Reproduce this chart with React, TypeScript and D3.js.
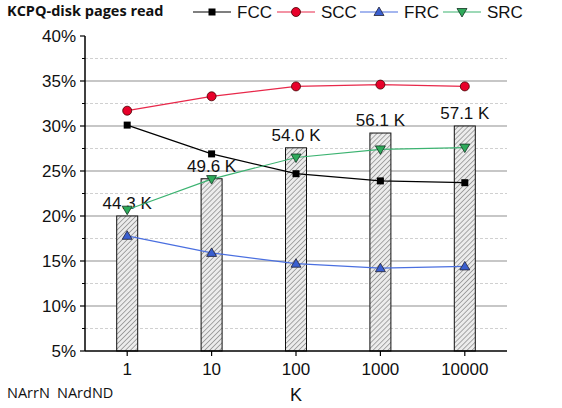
import * as d3 from "d3";
import React from "react";

// categories (K values)
const kValues = ["1", "10", "100", "1000", "10000"];

// line series, percent of disk pages read
const fcc = [30.1, 26.9, 24.7, 23.9, 23.7];
const scc = [31.7, 33.3, 34.4, 34.6, 34.4];
const frc = [17.8, 15.9, 14.7, 14.2, 14.4];
const src = [20.7, 24.1, 26.5, 27.4, 27.6];

// bar series, thousands of pages
const pages = [44.3, 49.6, 54.0, 56.1, 57.1];

const yTicks = [5, 10, 15, 20, 25, 30, 35, 40];
const yMinor = [7.5, 12.5, 17.5, 22.5, 27.5, 32.5, 37.5];

const W = 562,
  H = 408;
const margin = { top: 36, right: 55, bottom: 57, left: 85 };

const font = "'Liberation Sans', Arial, sans-serif";
const fontTitle = "'Open Sans', 'Noto Sans', sans-serif";

const series = [
  { name: "FCC", values: fcc, color: "#000000", marker: "square", fill: "#000000" },
  { name: "SCC", values: scc, color: "#e8284a", marker: "circle", fill: "#e8002a" },
  { name: "FRC", values: frc, color: "#4a6fe0", marker: "up", fill: "#3a5fd0" },
  { name: "SRC", values: src, color: "#3cb371", marker: "down", fill: "#2eaa5a" },
];

const Marker: React.FC<{ type: string; x: number; y: number; fill: string }> = ({ type, x, y, fill }) => {
  if (type === "square")
    return <rect x={x - 3.5} y={y - 3.5} width={7} height={7} fill={fill} />;
  if (type === "circle")
    return <circle cx={x} cy={y} r={4.5} fill={fill} stroke="#400" strokeWidth={0.8} />;
  if (type === "up")
    return (
      <path
        d={`M${x},${y - 5} L${x + 5},${y + 3.5} L${x - 5},${y + 3.5} Z`}
        fill={fill}
        stroke="#223"
        strokeWidth={0.8}
      />
    );
  return (
    <path
      d={`M${x},${y + 5} L${x + 5},${y - 3.5} L${x - 5},${y - 3.5} Z`}
      fill={fill}
      stroke="#132"
      strokeWidth={0.8}
    />
  );
};

const App: React.FC = () => {
  const x = d3
    .scaleBand()
    .domain(kValues)
    .range([margin.left, W - margin.right]);

  const y = d3
    .scaleLinear()
    .domain([5, 40])
    .range([H - margin.bottom, margin.top]);

  // hidden secondary axis for the page counts
  const y2 = d3
    .scaleLinear()
    .domain([25.1, 69.9])
    .range([H - margin.bottom, margin.top]);

  const cx = (k: string) => (x(k) ?? 0) + x.bandwidth() / 2;
  const barW = 21;

  const line = d3
    .line<number>()
    .x((_, i) => cx(kValues[i]))
    .y((d) => y(d));

  const x0 = margin.left,
    x1 = W - margin.right,
    yb = H - margin.bottom;

  const legendX = [193, 277, 360, 443];

  return (
    <svg width={W} height={H} style={{ position: "absolute", left: 0, top: 0 }}>
      <defs>
        <pattern id="hatch" patternUnits="userSpaceOnUse" width={3.5} height={3.5} patternTransform="rotate(45)">
          <rect width={3.5} height={3.5} fill="#ececec" />
          <line x1={0} y1={0} x2={0} y2={3.5} stroke="#6a6a6a" strokeWidth={1.1} />
        </pattern>
      </defs>
      <rect width={W} height={H} fill="#fff" />

      {/* grid */}
      {yMinor.map((t) => (
        <line key={"m" + t} x1={x0} x2={x1} y1={y(t)} y2={y(t)} stroke="#c4c4c4" strokeDasharray="3,2" strokeWidth={0.8} />
      ))}
      {yTicks.slice(1, -1).map((t) => (
        <line key={"g" + t} x1={x0} x2={x1} y1={y(t)} y2={y(t)} stroke="#b4b4b4" strokeWidth={1.5} />
      ))}

      {/* bars */}
      {pages.map((p, i) => (
        <g key={"b" + i}>
          <rect
            x={cx(kValues[i]) - barW / 2}
            y={y2(p)}
            width={barW}
            height={yb - y2(p)}
            fill="url(#hatch)"
            stroke="#111"
            strokeWidth={1}
          />
          <text
            x={cx(kValues[i])}
            y={y2(p) - 7}
            textAnchor="middle"
            fontFamily={font}
            fontSize={17}
            fill="#111"
          >
            {p.toFixed(1)} K
          </text>
        </g>
      ))}

      {/* lines */}
      {series.map((s) => (
        <g key={s.name}>
          <path d={line(s.values) ?? ""} fill="none" stroke={s.color} strokeWidth={1.2} />
          {s.values.map((v, i) => (
            <Marker key={i} type={s.marker} x={cx(kValues[i])} y={y(v)} fill={s.fill} />
          ))}
        </g>
      ))}

      {/* axes */}
      <line x1={x0} x2={x0} y1={margin.top} y2={yb} stroke="#000" strokeWidth={1.5} />
      <line x1={x0} x2={x1} y1={yb} y2={yb} stroke="#000" strokeWidth={1.5} />
      {yTicks.map((t) => (
        <g key={"t" + t}>
          <line x1={x0 - 5} x2={x0} y1={y(t)} y2={y(t)} stroke="#000" strokeWidth={1.2} />
          <text x={x0 - 9} y={y(t)} dy="0.35em" textAnchor="end" fontFamily={font} fontSize={17} fill="#111">
            {t}%
          </text>
        </g>
      ))}
      {yMinor.map((t) => (
        <line key={"mt" + t} x1={x0 - 3} x2={x0} y1={y(t)} y2={y(t)} stroke="#000" strokeWidth={1} />
      ))}
      {kValues.map((k) => (
        <g key={"x" + k}>
          <line x1={cx(k)} x2={cx(k)} y1={yb} y2={yb + 5} stroke="#000" strokeWidth={1.2} />
          <text x={cx(k)} y={yb + 24} textAnchor="middle" fontFamily={font} fontSize={17} fill="#111">
            {k}
          </text>
        </g>
      ))}
      <text x={(x0 + x1) / 2} y={401} textAnchor="middle" fontFamily={font} fontSize={18} fill="#111">
        K
      </text>
      <text x={7} y={398} fontFamily={fontTitle} fontSize={14.5} fill="#111">
        NArrN
      </text>
      <text x={57} y={398} fontFamily={fontTitle} fontSize={14.5} fill="#111">
        NArdND
      </text>

      {/* title */}
      <text x={7} y={16} fontFamily={fontTitle} fontSize={14.5} fontWeight="bold" fill="#111">
        KCPQ-disk pages read
      </text>

      {/* legend */}
      {series.map((s, i) => (
        <g key={"l" + s.name}>
          <line x1={legendX[i]} x2={legendX[i] + 38} y1={12} y2={12} stroke={s.color} strokeWidth={1.2} />
          <Marker type={s.marker} x={legendX[i] + 19} y={12} fill={s.fill} />
          <text x={legendX[i] + 44} y={12} dy="0.35em" fontFamily={font} fontSize={17} fill="#111">
            {s.name}
          </text>
        </g>
      ))}
    </svg>
  );
};

export default App;
